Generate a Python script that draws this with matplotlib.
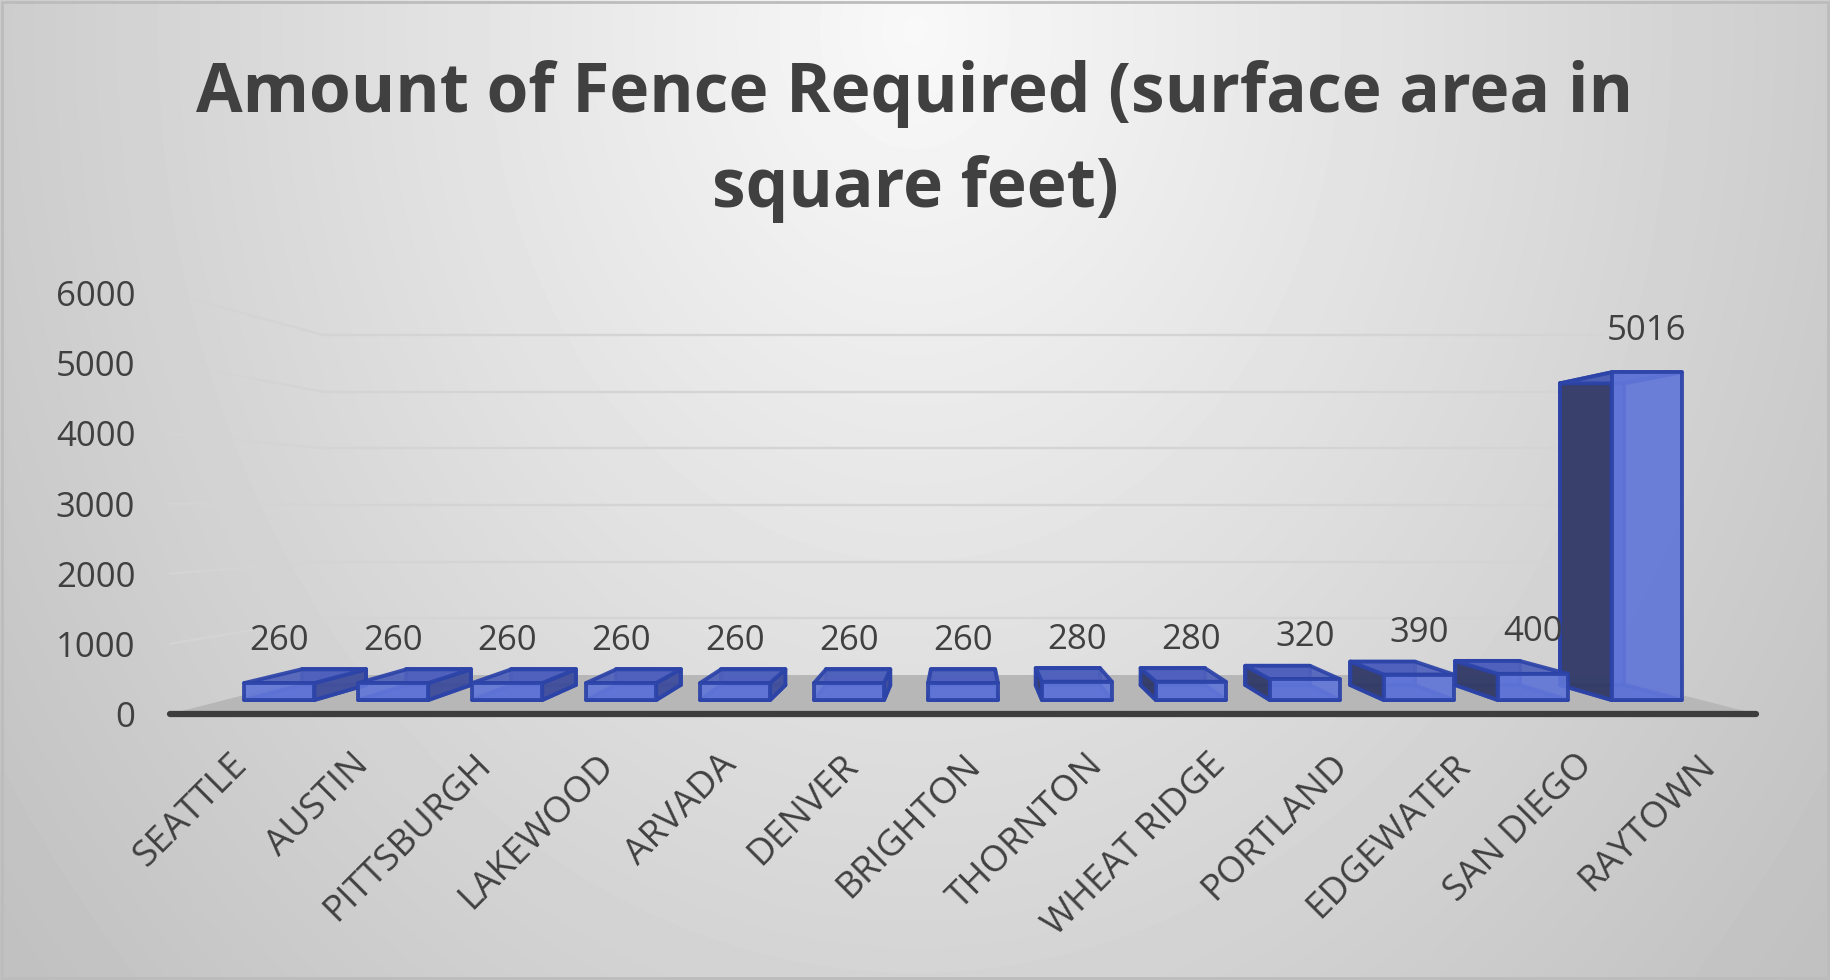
import matplotlib
matplotlib.use("Agg")
import matplotlib.pyplot as plt
import numpy as np
from matplotlib.patches import Polygon

# chart data
cities = ["SEATTLE", "AUSTIN", "PITTSBURGH", "LAKEWOOD", "ARVADA", "DENVER",
          "BRIGHTON", "THORNTON", "WHEAT RIDGE", "PORTLAND", "EDGEWATER",
          "SAN DIEGO", "RAYTOWN"]
fence = [260, 260, 260, 260, 260, 260, 260, 280, 280, 320, 390, 400, 5016]
y_ticks = [0, 1000, 2000, 3000, 4000, 5000, 6000]
title = "Amount of Fence Required (surface area in\nsquare feet)"

plt.rcParams["font.family"] = ["Open Sans", "DejaVu Sans"]

TXT = "#404040"
W, H = 1830, 980

# simple one point perspective in data units of the front plane
VX, VY = 6.0, 2893.0
S_BAR_F, S_BAR_B, S_WALL = 0.931, 0.857, 0.808
HALF_W = 0.307
XL, XR = -0.48, 12.48


def proj(x, y, s):
  return (VX + s * (x - VX), VY + s * (y - VY))


fig = plt.figure(figsize=(W / 100, H / 100), dpi=100)

# background gradient
bg = fig.add_axes([0, 0, 1, 1], zorder=-10)
gx, gy = np.meshgrid(np.linspace(0, 1, 400), np.linspace(0, 1, 220))
r = np.sqrt(((gx - 0.5) / 0.58) ** 2 + ((gy - 0.03) / 1.35) ** 2)
shade = 0.975 - 0.2 * np.clip(r, 0, 1.1)
bg.imshow(shade, cmap="gray", vmin=0, vmax=1, aspect="auto",
          extent=[0, 1, 1, 0], interpolation="bicubic")
bg.set_xlim(0, 1)
bg.set_ylim(1, 0)
bg.axis("off")
bg.add_patch(plt.Rectangle((0.001, 0.002), 0.998, 0.996, fill=False,
                           edgecolor="#bcbcbc", linewidth=2))

ax = fig.add_axes([170 / W, (H - 714) / H, (1756 - 170) / W, (714 - 293) / H])
ax.set_xlim(XL, XR)
ax.set_ylim(0, 6000)
ax.patch.set_alpha(0)
for sp in ax.spines.values():
  sp.set_visible(False)

# floor
floor = [proj(XL, 0, 1), proj(XR, 0, 1), proj(XR, 0, S_WALL), proj(XL, 0, S_WALL)]
ax.add_patch(Polygon(floor, closed=True, facecolor="#b7b7b7", edgecolor="none",
                     zorder=1, clip_on=False))

# gridlines on back wall and left wall
for t in y_ticks[1:]:
  a = proj(XL, t, 1)
  b = proj(XL, t, S_WALL)
  c = proj(XR, t, S_WALL)
  ax.plot([a[0], b[0]], [a[1], b[1]], color="#d4d4d4", lw=1.7, zorder=0.5,
          clip_on=False)
  ax.plot([b[0], c[0]], [b[1], c[1]], color="#d4d4d4", lw=1.7, zorder=0.5,
          clip_on=False)

# front axis line
ax.plot([XL, XR], [0, 0], color="#3d3d3d", lw=4.5, solid_capstyle="round",
        zorder=2, clip_on=False)

EDGE = "#2c43a8"


def face(pts, color, z):
  ax.add_patch(Polygon(pts, closed=True, facecolor=color, edgecolor=EDGE,
                       linewidth=2.8, alpha=0.92, zorder=z, clip_on=False,
                       joinstyle="round"))


for i, v in enumerate(fence):
  x0, x1 = i - HALF_W, i + HALF_W
  z = 3 + (7 - abs(i - VX)) * 0.1
  F = lambda x, y: proj(x, y, S_BAR_F)
  B = lambda x, y: proj(x, y, S_BAR_B)
  face([B(x0, 0), B(x1, 0), B(x1, v), B(x0, v)], "#5064c2", z)
  face([F(x0, 0), F(x1, 0), B(x1, 0), B(x0, 0)], "#4657aa", z + 0.001)
  if x1 < VX:
    face([F(x1, 0), F(x1, v), B(x1, v), B(x1, 0)], "#44529c", z + 0.002)
  elif x0 > VX:
    face([F(x0, 0), F(x0, v), B(x0, v), B(x0, 0)], "#353d64", z + 0.002)
  face([F(x0, v), F(x1, v), B(x1, v), B(x0, v)], "#4f61bc", z + 0.003)
  face([F(x0, 0), F(x1, 0), F(x1, v), F(x0, v)], "#6176d8", z + 0.004)
  ax.annotate(str(v), xy=F(i, v), xytext=(0, 30), textcoords="offset points",
              ha="center", va="center", fontsize=25, color=TXT, zorder=20)

ax.set_yticks(y_ticks)
ax.set_yticklabels([str(t) for t in y_ticks])
ax.set_xticks(range(len(cities)))
ax.set_xticklabels(cities, rotation=45, ha="right", rotation_mode="anchor")
ax.tick_params(axis="both", length=0, labelsize=25, labelcolor=TXT)
ax.tick_params(axis="x", labelsize=26.5, pad=24)
ax.tick_params(axis="y", pad=25)

fig.text(0.5, 1 - 60 / H, title, ha="center", va="top", fontsize=48.7,
         fontweight="bold", color=TXT, linespacing=1.52)

fig.savefig("out.png", dpi=100)
